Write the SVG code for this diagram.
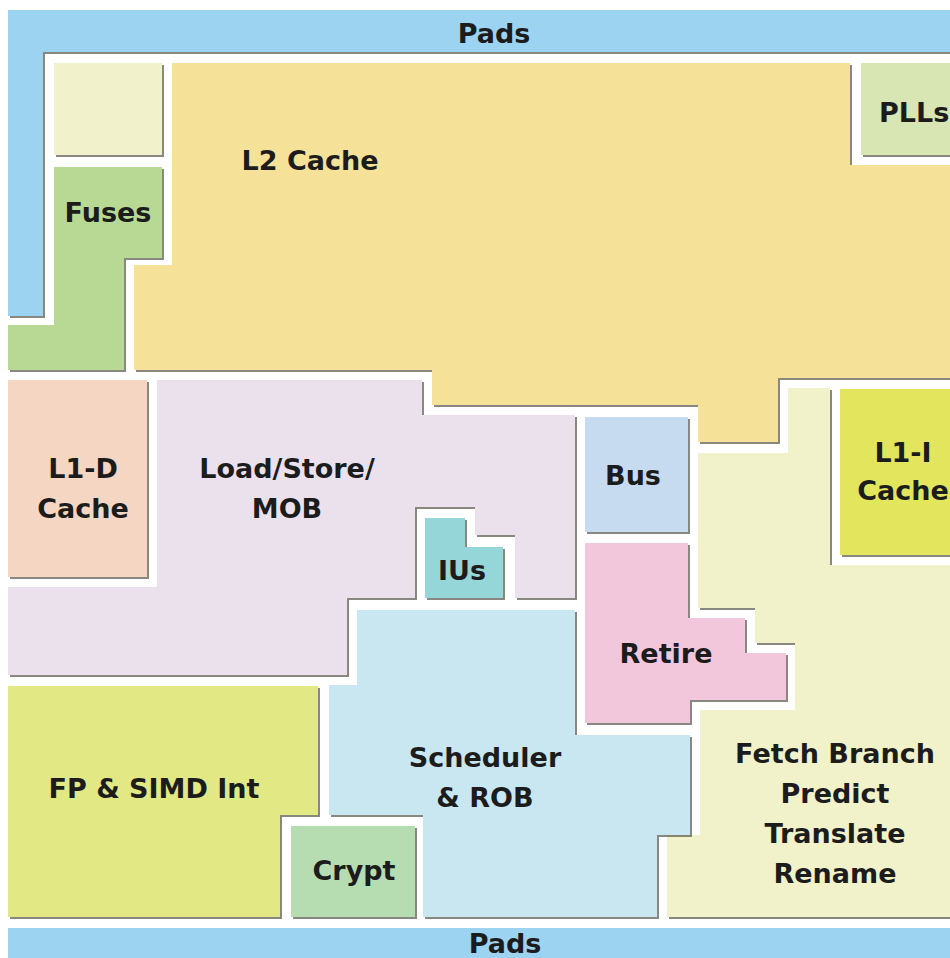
<svg xmlns="http://www.w3.org/2000/svg" width="950" height="958" viewBox="0 0 950 958">
<defs>
<filter id="sh" x="-5%" y="-5%" width="110%" height="110%">
<feDropShadow dx="2" dy="2" stdDeviation="0.5" flood-color="#4a4a40" flood-opacity="0.65"/>
</filter>
</defs>
<style>
.b{filter:url(#sh)}
text{font-family:"DejaVu Sans","Noto Sans",sans-serif;font-weight:bold;font-size:27px;fill:#1c1c1c;text-anchor:middle}
</style>
<rect width="950" height="958" fill="#ffffff"/>
<g id="pads-top"><polygon class="b" points="8,10 950,10 950,52 43,52 43,316 8,316" fill="#9cd3f1"/><text x="494" y="43">Pads</text></g>
<g id="blank"><rect class="b" x="54" y="63" width="108" height="92" fill="#f1f1cb"/></g>
<g id="fuses"><polygon class="b" points="54,167 162,167 162,258 124,258 124,370 8,370 8,325 54,325" fill="#b8d993"/><text x="108" y="222">Fuses</text></g>
<g id="l2"><polygon class="b" points="172,63 850,63 850,165 950,165 950,378 778,378 778,442 698,442 698,405 432,405 432,370 134,370 134,265 172,265" fill="#f5e298"/><text x="310" y="170">L2 Cache</text></g>
<g id="plls"><rect class="b" x="861" y="63" width="95" height="92" fill="#d7e6b2"/><text x="879" y="122" style="text-anchor:start">PLLs</text></g>
<g id="l1d"><rect class="b" x="8" y="380" width="139" height="197" fill="#f5d6c2"/><text x="83" y="478">L1-D</text><text x="83" y="518">Cache</text></g>
<g id="lsmob"><polygon class="b" points="157,380 422,380 422,415 575,415 575,598 515,598 515,535 475,535 475,507 415,507 415,598 347,598 347,675 8,675 8,587 157,587" fill="#eae1ec"/><text x="287" y="478">Load/Store/</text><text x="287" y="518">MOB</text></g>
<g id="ius"><polygon class="b" points="425,518 465,518 465,547 503,547 503,598 425,598" fill="#95d6d9"/><text x="462" y="580">IUs</text></g>
<g id="bus"><rect class="b" x="585" y="417" width="103" height="115" fill="#c6daf0"/><text x="633" y="485">Bus</text></g>
<g id="l1i"><rect class="b" x="840" y="389" width="115" height="166" fill="#e3e65c"/><text x="903" y="462">L1-I</text><text x="903" y="500">Cache</text></g>
<g id="fetch"><polygon class="b" points="788,388 830,388 830,565 955,565 955,917 667,917 667,835 700,835 700,710 795,710 795,643 755,643 755,608 698,608 698,453 788,453" fill="#f2f2ca"/><text x="835" y="763">Fetch Branch</text><text x="835" y="803">Predict</text><text x="835" y="843">Translate</text><text x="835" y="883">Rename</text></g>
<g id="retire"><polygon class="b" points="585,543 688,543 688,618 745,618 745,653 786,653 786,700 690,700 690,723 585,723" fill="#f3c7db"/><text x="666" y="663">Retire</text></g>
<g id="sched"><polygon class="b" points="357,610 575,610 575,735 690,735 690,835 657,835 657,917 423,917 423,815 329,815 329,685 357,685" fill="#c9e7f1"/><text x="485" y="767">Scheduler</text><text x="485" y="807">&amp; ROB</text></g>
<g id="fp"><polygon class="b" points="8,686 318,686 318,815 280,815 280,917 8,917" fill="#e2e883"/><text x="154" y="798">FP &amp; SIMD Int</text></g>
<g id="crypt"><rect class="b" x="291" y="826" width="124" height="91" fill="#b5ddb1"/><text x="354" y="880">Crypt</text></g>
<g id="pads-bottom"><rect x="8" y="928" width="947" height="35" fill="#9cd3f1"/><text x="505" y="953">Pads</text></g>
<g id="connectors"></g>
</svg>
